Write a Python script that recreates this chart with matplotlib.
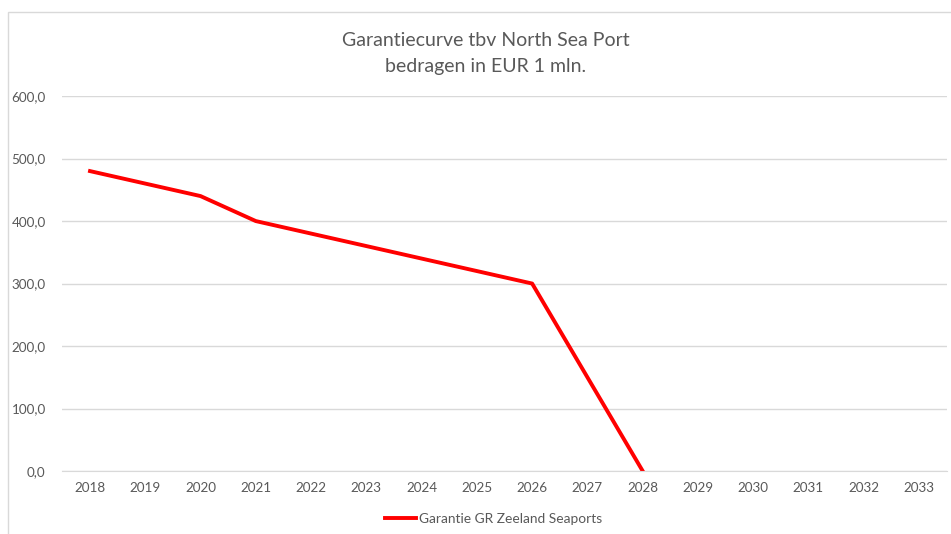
import matplotlib.pyplot as plt
from matplotlib.patches import Rectangle
from matplotlib.lines import Line2D

# --- data ---
years = [str(y) for y in range(2018, 2034)]
garantie = [480, 460, 440, 400, 380, 360, 340, 320, 300, 150, 0]
y_ticks = [0, 100, 200, 300, 400, 500, 600]

TEXT = '#595959'
GRID = '#d9d9d9'
plt.rcParams['font.family'] = ['Lato', 'DejaVu Sans']

fig = plt.figure(figsize=(9.51, 5.34), dpi=100)
ax = fig.add_axes([0.0656, 0.118, 0.9298, 0.702])

x = list(range(len(years)))
ax.plot(x[:len(garantie)], garantie, color='#ff0000', linewidth=2.8,
        solid_joinstyle='round', label='Garantie GR Zeeland Seaports')

ax.set_xlim(-0.5, len(years) - 0.5)
ax.set_ylim(0, 600)
ax.set_xticks(x)
ax.set_xticklabels(years)
ax.set_yticks(y_ticks)
ax.set_yticklabels([f'{v:.1f}'.replace('.', ',') for v in y_ticks])
ax.tick_params(length=0, labelsize=9.7, colors=TEXT, pad=8)
ax.tick_params(axis='y', pad=12)
ax.grid(axis='y', color=GRID, linewidth=1)
ax.set_axisbelow(True)
for s in ax.spines.values():
    s.set_visible(False)
ax.spines['bottom'].set_visible(True)
ax.spines['bottom'].set_color(GRID)

fig.text(0.511, 0.925, 'Garantiecurve tbv North Sea Port', ha='center', va='center',
         fontsize=14, color=TEXT)
fig.text(0.511, 0.876, 'bedragen in EUR 1 mln.', ha='center', va='center',
         fontsize=14, color=TEXT)

leg = fig.legend(handles=[Line2D([], [], color='#ff0000', linewidth=2.8)],
                 labels=['Garantie GR Zeeland Seaports'],
                 loc='center', bbox_to_anchor=(0.519, 0.028), frameon=False,
                 fontsize=9.9, handlelength=2.25, handletextpad=0.2)
for t in leg.get_texts():
    t.set_color(TEXT)

# chart border
fig.add_artist(Rectangle((8 / 951, -0.1), 1.1, 1 - 12 / 534 + 0.1,
                         transform=fig.transFigure, fill=False,
                         edgecolor=GRID, linewidth=1))

fig.savefig('out.png', dpi=100)
